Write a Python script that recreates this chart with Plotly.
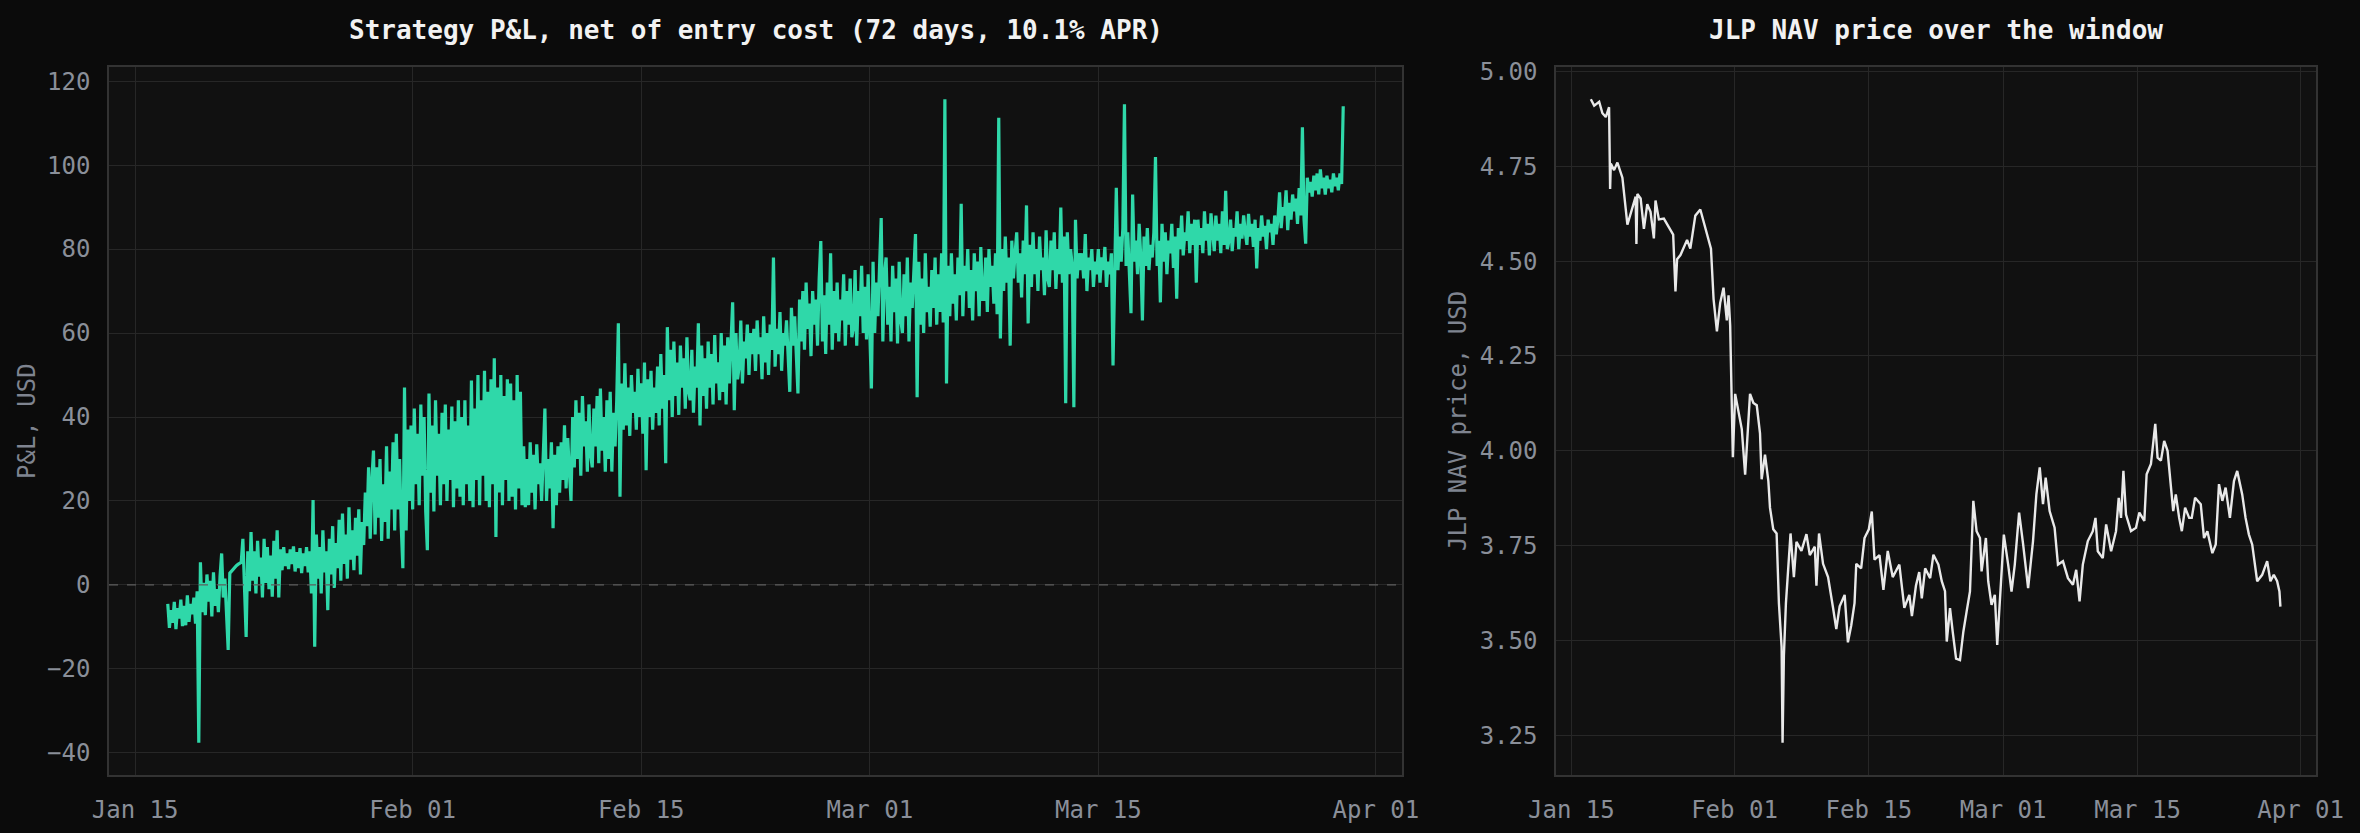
import pandas as pd
import plotly.graph_objects as go

# ---------------- data ----------------
BASE = pd.Timestamp("2025-01-15")
PNL_START = pd.Timestamp("2025-01-17")          # first P&L sample
PNL_STEP_HOURS = 2.4                             # sample spacing (10 per day)

# P&L, USD — ten samples per day (one row per day), Jan 17 -> Mar 30
pnl_usd = [
    -4.5, -10.2, -6.0, -9.0, -4.0, -10.5, -5.5, -8.0, -3.5, -9.8,      # Jan 17
    -5.0, -9.6, -2.5, -8.8, -4.5, -7.0, -3.0, -9.2, -1.5, -37.6,
    5.4, -6.5, 0.5, -7.2, 2.5, -4.0, 1.0, -7.5, 3.0, -5.0,
    -1.0, -6.5, 2.0, 7.5, -3.0, 1.5, -7.0, -15.5, 2.8, 3.3,
    3.8, 4.2, 4.6, 4.9, 5.2, 5.4, 11.0, -2.0, -12.4, 8.0,
    -1.5, 12.6, 1.0, 8.0, -2.0, 10.5, 2.0, 6.5, -3.0, 11.0,
    0.5, 9.0, -1.0, 7.0, -2.8, 10.5, 1.5, 13.0, -3.0, 8.5,
    3.5, 9.0, 4.5, 7.5, 3.8, 8.5, 5.0, 9.2, 3.2, 7.8,
    4.0, 8.8, 2.8, 7.5, 4.5, 9.0, 3.0, 8.0, -2.0, 20.2,
    -14.7, 12.0, 1.5, 9.0, -2.0, 13.0, 3.0, 8.0, -6.0, 11.0,
    2.5, 14.0, -0.7, 10.0, 4.0, 15.5, 1.0, 17.0, 5.0, 12.0,
    1.5, 18.5, 6.0, 13.0, 3.5, 16.0, 7.0, 18.0, 2.5, 15.0,
    9.5, 22.0, 14.0, 28.0, 11.0, 25.0, 32.0, 12.0, 28.0, 16.0,
    30.0, 10.5, 24.0, 15.0, 33.0, 11.0, 27.0, 18.0, 34.0, 13.0,
    36.0, 18.0, 30.0, 14.0, 4.0, 47.0, 13.0, 37.0, 20.0, 38.0,         # Feb 01
    18.0, 42.0, 24.0, 36.0, 19.0, 43.0, 26.0, 40.0, 17.5, 8.3,
    45.6, 22.0, 38.0, 17.5, 44.0, 26.0, 36.0, 19.0, 41.0, 24.0,
    43.0, 20.0, 37.0, 25.0, 42.5, 18.5, 39.0, 23.0, 44.0, 21.0,
    40.0, 19.0, 44.0, 24.0, 38.0, 20.0, 48.7, 18.5, 42.0, 25.0,
    50.0, 19.0, 44.0, 26.0, 51.0, 20.0, 46.0, 18.5, 49.0, 24.0,
    54.0, 11.4, 47.0, 22.0, 50.0, 19.0, 45.0, 25.0, 49.0, 20.0,
    48.0, 21.0, 44.0, 18.0, 50.0, 23.0, 46.0, 19.0, 33.0, 18.5,
    30.0, 19.0, 34.0, 22.0, 31.0, 18.0, 33.5, 24.0, 29.0, 20.0,
    32.0, 42.0, 20.0, 30.0, 23.0, 34.0, 13.5, 31.0, 19.0, 33.0,
    22.0, 34.0, 25.0, 38.0, 23.0, 35.0, 27.0, 20.0, 40.0, 28.0,
    44.0, 30.0, 41.0, 26.0, 45.0, 33.0, 39.0, 27.0, 43.0, 31.0,
    28.0, 42.0, 33.0, 45.0, 29.0, 46.8, 32.0, 40.0, 27.0, 44.0,
    30.0, 46.0, 27.0, 41.0, 33.0, 44.0, 62.3, 21.0, 48.0, 37.0,
    52.8, 38.0, 47.0, 35.5, 50.0, 41.0, 46.0, 37.0, 51.5, 40.0,        # Feb 15
    48.0, 36.0, 53.0, 27.3, 49.0, 40.0, 51.0, 37.0, 47.0, 41.0,
    52.0, 38.0, 55.0, 42.0, 50.0, 29.0, 61.4, 44.0, 56.0, 40.0,
    58.0, 45.0, 53.0, 40.5, 57.0, 47.0, 54.0, 42.0, 59.0, 46.0,
    44.0, 56.0, 41.0, 52.0, 47.0, 62.3, 38.0, 57.0, 45.0, 54.0,
    42.0, 58.0, 47.0, 55.0, 43.0, 59.5, 48.0, 53.0, 44.0, 60.0,
    46.0, 57.0, 43.0, 59.0, 48.0, 56.0, 67.3, 41.6, 60.0, 49.0,
    52.0, 63.0, 48.0, 58.0, 54.0, 62.0, 50.0, 60.0, 55.0, 61.0,
    51.0, 63.0, 55.0, 59.0, 49.0, 64.0, 53.0, 60.0, 50.0, 62.0,
    56.0, 78.0, 52.0, 61.0, 55.0, 65.0, 51.0, 60.0, 57.0, 63.0,
    53.0, 46.0, 66.0, 57.0, 64.0, 53.5, 45.6, 68.0, 58.0, 70.0,
    56.0, 72.0, 61.0, 67.0, 54.5, 70.0, 62.0, 68.0, 57.0, 73.0,
    81.9, 58.0, 69.0, 55.0, 72.0, 62.0, 79.0, 56.0, 70.0, 60.0,
    72.0, 58.0, 68.0, 63.0, 74.0, 57.0, 70.0, 62.0, 73.0, 59.0,
    61.0, 75.0, 57.0, 70.0, 64.0, 76.0, 60.0, 71.0, 58.5, 74.0,        # Mar 01
    62.0, 46.8, 77.0, 60.0, 72.0, 64.0, 76.0, 87.4, 58.0, 74.0,
    78.0, 62.0, 71.0, 58.0, 76.0, 65.0, 73.0, 57.5, 77.0, 63.0,
    60.0, 74.0, 64.0, 78.0, 58.0, 72.0, 66.0, 76.0, 83.6, 44.7,
    77.0, 62.0, 73.0, 60.0, 79.0, 65.0, 71.0, 61.5, 75.0, 66.0,
    78.0, 62.0, 74.0, 65.0, 79.0, 62.5, 115.7, 48.0, 76.0, 64.0,
    79.0, 67.0, 74.0, 63.0, 78.0, 69.0, 90.8, 64.0, 76.0, 70.0,
    80.0, 66.0, 75.0, 63.0, 79.0, 70.0, 77.0, 64.0, 80.5, 68.0,
    68.0, 78.0, 65.0, 80.0, 71.0, 76.0, 67.0, 79.0, 64.5, 111.3,
    58.7, 80.0, 70.0, 83.0, 72.0, 78.0, 57.0, 82.0, 73.0, 79.0,
    84.0, 72.0, 79.0, 68.5, 82.0, 74.0, 90.4, 62.3, 81.0, 71.0,
    84.0, 74.0, 80.0, 70.0, 83.0, 75.0, 78.0, 69.0, 84.5, 73.0,
    71.0, 82.0, 75.0, 84.0, 70.5, 80.0, 74.0, 89.9, 72.0, 83.0,
    43.3, 84.0, 74.0, 80.0, 76.0, 42.3, 87.0, 73.0, 79.0, 75.0,
    79.0, 73.0, 83.6, 70.0, 78.0, 75.0, 80.0, 71.0, 77.0, 74.0,        # Mar 15
    80.0, 72.0, 78.0, 75.0, 80.5, 71.0, 77.0, 74.0, 79.0, 52.3,
    78.0, 94.6, 75.0, 83.0, 77.0, 85.0, 114.5, 76.0, 84.0, 73.5,
    64.7, 93.0, 77.0, 82.0, 74.0, 86.0, 78.0, 63.0, 83.0, 76.0,
    85.0, 75.0, 81.0, 78.0, 84.0, 101.9, 76.0, 82.0, 67.3, 86.0,
    77.0, 84.0, 74.0, 82.0, 79.0, 86.0, 75.5, 83.0, 68.2, 85.0,
    80.0, 88.0, 78.5, 84.0, 82.0, 89.0, 79.0, 86.0, 81.0, 87.0,
    72.0, 87.0, 81.0, 85.0, 79.0, 89.0, 82.0, 86.0, 78.5, 88.5,
    84.0, 79.5, 88.0, 82.0, 86.0, 79.0, 89.0, 81.0, 93.9, 80.0,
    82.0, 87.0, 79.5, 85.0, 83.0, 89.0, 80.0, 86.0, 82.5, 88.0,
    84.0, 81.0, 88.4, 83.0, 86.0, 80.5, 87.0, 75.4, 85.0, 82.0,
    88.0, 83.0, 85.5, 80.0, 87.0, 84.0, 86.0, 81.0, 88.0, 83.5,
    87.0, 93.5, 85.0, 90.0, 88.0, 94.0, 84.5, 91.0, 87.0, 93.0,
    89.0, 92.0, 86.0, 94.5, 88.0, 109.0, 87.0, 81.3, 97.0, 93.5,
    96.0, 92.5, 97.5, 94.0, 98.0, 93.0, 99.0, 94.5, 97.0, 93.0,
    97.5, 94.5, 96.5, 93.5, 98.0, 95.0, 97.0, 94.0, 98.0, 95.5,
    114.0,                                                             # Mar 30
]

# JLP NAV price: day offset from Jan 15 and price in USD
nav_day = [
    2.03, 2.38, 2.90, 3.24, 3.59, 3.93, 4.04, 4.11, 4.45, 4.80, 5.32, 5.84,
    6.70, 6.78, 6.88, 7.22, 7.56, 7.91, 8.25, 8.60, 8.77, 9.12, 9.64, 10.16,
    10.61, 10.85, 11.02, 11.37, 12.06, 12.40, 12.92, 13.44, 13.96, 14.55,
    14.82, 15.17, 15.51, 15.86, 16.20, 16.38, 16.55, 16.72, 16.83, 17.07,
    17.41, 17.76, 18.11, 18.62, 18.97, 19.32, 19.66, 19.83, 20.18, 20.53,
    20.70, 21.04, 21.39, 21.63, 21.91, 22.01, 22.15, 22.36, 22.60, 22.84,
    23.19, 23.46, 23.98, 24.50, 24.85, 25.37, 25.54, 25.81, 26.23, 26.75,
    27.27, 27.61, 27.96, 28.48, 28.82, 29.17, 29.51, 29.69, 30.20, 30.55,
    31.00, 31.31, 31.59, 32.11, 32.52, 32.97, 33.49, 34.18, 34.70, 35.22,
    35.49, 35.91, 36.25, 36.52, 36.87, 37.39, 37.73, 38.25, 38.60, 38.94,
    39.12, 39.46, 39.74, 40.09, 40.50, 40.85, 41.19, 41.54, 41.89, 42.23,
    42.58, 42.75, 43.20, 43.44, 43.79, 44.13, 44.38, 44.65, 45.07, 45.52,
    45.87, 46.21, 46.66, 47.08, 47.60, 48.11, 48.46, 48.81, 49.15, 49.43,
    49.84, 50.36, 50.71, 51.23, 51.75, 52.27, 52.61, 52.96, 53.30, 53.82,
    54.34, 54.62, 54.86, 55.38, 55.73, 56.25, 56.76, 57.04, 57.28, 57.53,
    57.80, 58.32, 58.84, 59.19, 59.71, 59.95, 60.40, 60.85, 61.09, 61.44,
    61.78, 62.13, 62.47, 62.72, 62.99, 63.34, 63.62, 63.96, 64.38, 64.65,
    65.00, 65.59, 65.93, 66.28, 66.80, 67.15, 67.49, 67.84, 68.18, 68.63,
    69.05, 69.39, 69.91, 70.26, 70.61, 70.95, 71.47, 71.99, 72.51, 72.85,
    73.20, 73.55, 73.79, 73.89,
]
nav_usd = [
    4.927, 4.910, 4.920, 4.890, 4.880, 4.906, 4.690, 4.757, 4.740, 4.760, 4.720, 4.596,
    4.670, 4.545, 4.677, 4.665, 4.585, 4.650, 4.630, 4.560, 4.660, 4.610, 4.612, 4.590,
    4.570, 4.420, 4.505, 4.516, 4.556, 4.533, 4.620, 4.636, 4.585, 4.533,
    4.400, 4.315, 4.390, 4.430, 4.344, 4.410, 4.330, 4.160, 3.983, 4.150,
    4.103, 4.057, 3.937, 4.150, 4.126, 4.120, 4.046, 3.925, 3.990, 3.920,
    3.850, 3.793, 3.782, 3.598, 3.483, 3.230, 3.460, 3.598, 3.690, 3.782,
    3.667, 3.760, 3.736, 3.780, 3.725, 3.747, 3.644, 3.782, 3.702, 3.667,
    3.586, 3.530, 3.590, 3.620, 3.495, 3.540, 3.598, 3.702, 3.690, 3.770,
    3.793, 3.840, 3.713, 3.725, 3.633, 3.736, 3.667, 3.700, 3.586, 3.620,
    3.564, 3.644, 3.680, 3.611, 3.690, 3.664, 3.726, 3.700, 3.656, 3.630,
    3.497, 3.585, 3.523, 3.452, 3.448, 3.523, 3.576, 3.629, 3.868, 3.788,
    3.770, 3.682, 3.770, 3.656, 3.594, 3.620, 3.488, 3.594, 3.779, 3.700,
    3.629, 3.700, 3.837, 3.753, 3.638, 3.762, 3.885, 3.956, 3.859, 3.929,
    3.841, 3.797, 3.700, 3.709, 3.664, 3.647, 3.686, 3.603, 3.700, 3.762,
    3.788, 3.823, 3.735, 3.717, 3.806, 3.735, 3.788, 3.876, 3.823, 3.947,
    3.832, 3.788, 3.797, 3.837, 3.815, 3.938, 3.965, 4.071, 3.982, 3.974,
    4.026, 4.000, 3.903, 3.841, 3.885, 3.823, 3.788, 3.850, 3.823, 3.823,
    3.876, 3.859, 3.770, 3.788, 3.730, 3.753, 3.912, 3.868, 3.903, 3.823,
    3.920, 3.947, 3.885, 3.823, 3.779, 3.753, 3.656, 3.673, 3.709, 3.656,
    3.673, 3.656, 3.629, 3.589,
]

x_tick_dates = ["2025-01-15", "2025-02-01", "2025-02-15", "2025-03-01", "2025-03-15", "2025-04-01"]
x_tick_text = ["Jan 15", "Feb 01", "Feb 15", "Mar 01", "Mar 15", "Apr 01"]
pnl_ticks = [-40, -20, 0, 20, 40, 60, 80, 100, 120]
nav_ticks = [3.25, 3.50, 3.75, 4.00, 4.25, 4.50, 4.75, 5.00]

titles = ["Strategy P&L, net of entry cost (72 days, 10.1% APR)", "JLP NAV price over the window"]
y_titles = ["P&L, USD", "JLP NAV price, USD"]

# ---------------- styling ----------------
W, H = 2360, 833
PAPER = "#0b0b0b"
PLOT = "#111111"
GRID = "#272727"
SPINE = "#333333"
TICK = "#8a8f99"
GREEN = "#2fd8a9"
WHITE = "#e9e9e9"
MONO = "DejaVu Sans Mono, monospace"

pnl_time = [PNL_START + pd.Timedelta(hours=PNL_STEP_HOURS * i) for i in range(len(pnl_usd))]
nav_time = [BASE + pd.Timedelta(days=d) for d in nav_day]

t0, t1 = pnl_time[0], pnl_time[-1]
pad = (t1 - t0) * 0.05
xr = [t0 - pad, t1 + pad]

def yrange(v):
    lo, hi = min(v), max(v)
    m = (hi - lo) * 0.05
    return [lo - m, hi + m]

fig = go.Figure()
fig.add_trace(go.Scatter(x=pnl_time, y=pnl_usd, mode="lines",
                         line=dict(color=GREEN, width=3.2), xaxis="x", yaxis="y",
                         showlegend=False, hoverinfo="skip"))
fig.add_trace(go.Scatter(x=nav_time, y=nav_usd, mode="lines",
                         line=dict(color=WHITE, width=2.4), xaxis="x2", yaxis="y2",
                         showlegend=False, hoverinfo="skip"))

# dashed zero line on the P&L panel
fig.add_shape(type="line", xref="x domain", yref="y", x0=0, x1=1, y0=0, y1=0,
              line=dict(color="#5e5e5e", width=1.3, dash="dash"), layer="above")

Y0, Y1 = 1 - 775 / H, 1 - 67 / H
axis_common = dict(showgrid=True, gridcolor=GRID, gridwidth=1, showline=True, mirror=True,
                   linecolor=SPINE, linewidth=1.5, zeroline=False, automargin=False,
                   ticks="outside", ticklen=12, tickcolor="rgba(0,0,0,0)",
                   tickfont=dict(family=MONO, size=24, color=TICK))

fig.update_layout(
    width=W, height=H, paper_bgcolor=PAPER, plot_bgcolor=PLOT,
    margin=dict(l=0, r=0, t=0, b=0, autoexpand=False),
    xaxis=dict(domain=[109 / W, 1402 / W], anchor="y", type="date", range=xr,
               tickvals=x_tick_dates, ticktext=x_tick_text, **axis_common),
    yaxis=dict(domain=[Y0, Y1], anchor="x", range=yrange(pnl_usd), tickvals=pnl_ticks,
               **axis_common),
    xaxis2=dict(domain=[1556 / W, 2316 / W], anchor="y2", type="date", range=xr,
                tickvals=x_tick_dates, ticktext=x_tick_text, **axis_common),
    yaxis2=dict(domain=[Y0, Y1], anchor="x2", range=yrange(nav_usd), tickvals=nav_ticks,
                tickformat=".2f", **axis_common),
)

title_y = 1 - 30 / H
for cx, txt in zip([755.5 / W, 1936 / W], titles):
    fig.add_annotation(text=f"<b>{txt}</b>", xref="paper", yref="paper", x=cx, y=title_y,
                       xanchor="center", yanchor="middle", showarrow=False,
                       font=dict(family=MONO, size=26, color="#f2f2f2"))

for cx, txt in zip([27 / W, 1458 / W], y_titles):
    fig.add_annotation(text=txt, xref="paper", yref="paper", x=cx, y=(Y0 + Y1) / 2,
                       xanchor="center", yanchor="middle", showarrow=False, textangle=-90,
                       font=dict(family=MONO, size=24, color="#7f8490"))

fig.write_html("out.html")
